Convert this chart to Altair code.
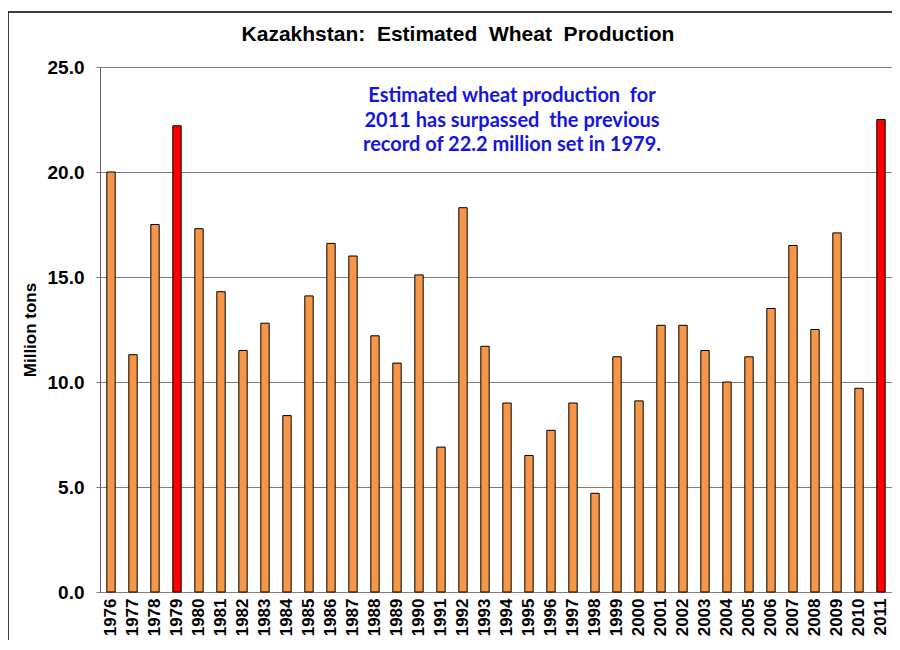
import altair as alt
import pandas as pd

years = [str(y) for y in range(1976, 2012)]
production = [20.0, 11.3, 17.5, 22.2, 17.3, 14.3, 11.5, 12.8, 8.4, 14.1,
              16.6, 16.0, 12.2, 10.9, 15.1, 6.9, 18.3, 11.7, 9.0, 6.5,
              7.7, 9.0, 4.7, 11.2, 9.1, 12.7, 12.7, 11.5, 10.0, 11.2,
              13.5, 16.5, 12.5, 17.1, 9.7, 22.5]
highlight = ["1979", "2011"]

NB = "\u00a0"
title_text = f"Kazakhstan:{NB} Estimated{NB} Wheat{NB} Production"
note_lines = [f"Estimated wheat production{NB} for",
              f"2011 has surpassed{NB} the previous",
              "record of 22.2 million set in 1979."]

df = pd.DataFrame({"year": years, "value": production})
df["kind"] = ["record" if y in highlight else "normal" for y in years]

W, H = 792, 525

bars = alt.Chart(df).mark_bar(stroke="black", strokeWidth=1).encode(
    x=alt.X("year:N", sort=years,
            scale=alt.Scale(paddingInner=0.62, paddingOuter=0.31),
            axis=alt.Axis(title=None, labelAngle=270, labelFont="Liberation Sans",
                          labelFontWeight="bold", labelFontSize=17, labelColor="black",
                          ticks=False, domainColor="#808080", labelPadding=6,
                          labelAlign="right", labelBaseline="middle")),
    y=alt.Y("value:Q", scale=alt.Scale(domain=[0, 25], nice=False),
            axis=alt.Axis(title="Million tons", values=[0, 5, 10, 15, 20, 25],
                          format=".1f", labelFont="Liberation Sans",
                          labelFontWeight="bold", labelFontSize=19, labelColor="black",
                          titleFont="Liberation Sans", titleFontSize=17,
                          titleFontWeight="bold", titleColor="black", titlePadding=8,
                          tickSize=4, tickColor="#808080", labelPadding=12,
                          domainColor="#606060", gridColor="#808080", gridWidth=1)),
    color=alt.Color("kind:N", scale=alt.Scale(domain=["normal", "record"],
                                              range=["#F79646", "#FF0000"]), legend=None),
)

title = alt.Chart(pd.DataFrame({"t": [title_text]})).mark_text(
    font="Liberation Sans", fontSize=21, fontWeight="bold", color="black",
    align="center", baseline="middle"
).encode(x=alt.value(358), y=alt.value(-32), text="t:N")

note = alt.Chart(pd.DataFrame({"t": note_lines, "i": [0, 1, 2]})).mark_text(
    font="Lato", fontSize=20, fontWeight="bold", color="#1515E0",
    align="center", baseline="middle"
).encode(x=alt.value(412),
         y=alt.Y("i:Q", scale=alt.Scale(domain=[0, 2], range=[29, 78]), axis=None),
         text="t:N")

frame = alt.Chart(pd.DataFrame({"a": [0]})).mark_rect(
    fill=None, stroke="black", strokeWidth=1.5, clip=False
).encode(x=alt.value(-92), x2=alt.value(820), y=alt.value(-55), y2=alt.value(700))

chart = alt.layer(frame, bars, title, note).resolve_scale(y="independent").properties(
    width=W, height=H,
    autosize=alt.AutoSizeParams(type="none"),
    padding={"left": 92, "top": 59, "right": 0, "bottom": 48},
    background="white",
).configure_view(stroke="#808080", strokeWidth=1)

chart.save("out.html", embed_options={"renderer": "svg", "actions": False})
